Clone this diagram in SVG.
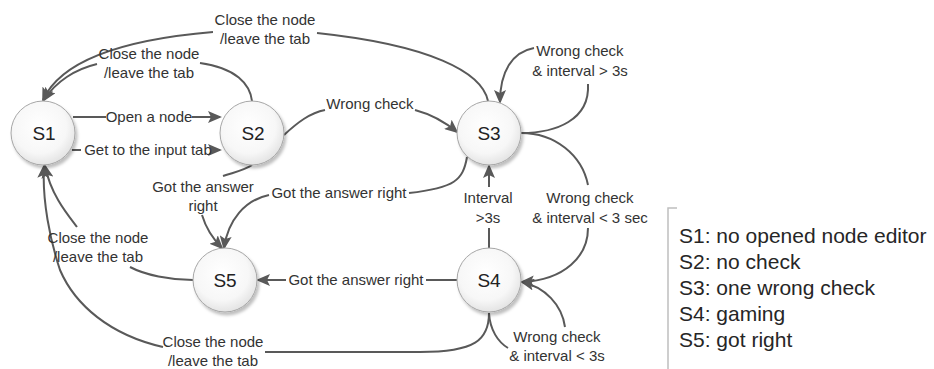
<svg xmlns="http://www.w3.org/2000/svg" width="934" height="369" viewBox="0 0 934 369">
<style>
.lbl{font-family:"Liberation Sans",Arial,sans-serif;font-size:15px;fill:#333;text-anchor:middle}
.nt{font-family:"Liberation Sans",Arial,sans-serif;font-size:19px;fill:#222;text-anchor:middle}
.leg{font-family:"Liberation Sans",Arial,sans-serif;font-size:21px;fill:#262626}
.c{fill:none;stroke:#595959;stroke-width:2}
.a{marker-end:url(#ah)}
.node circle{fill:url(#g);stroke:#a6a6a6;stroke-width:1;filter:url(#sh)}
</style>
<defs>
<radialGradient id="g" cx="0.45" cy="0.4" r="0.6">
<stop offset="0" stop-color="#ffffff"/>
<stop offset="0.7" stop-color="#f7f7f7"/>
<stop offset="1" stop-color="#e4e4e4"/>
</radialGradient>
<filter id="sh" x="-20%" y="-20%" width="150%" height="150%">
<feDropShadow dx="2" dy="3" stdDeviation="1.5" flood-color="#000" flood-opacity="0.25"/>
</filter>
<marker id="ah" markerUnits="userSpaceOnUse" markerWidth="14" markerHeight="12" viewBox="0 0 14 12" refX="12" refY="6" orient="auto">
<path d="M0,0 L14,6 L0,12 L3,6 z" fill="#595959"/>
</marker>
</defs>
<rect width="934" height="369" fill="#fff"/>
<g id="connectors">
<path class="c a" d="M73,117 H106 M192,117 H220"/>
<path class="c a" d="M72,150 H81 M214,150 H220"/>
<path class="c" d="M252,101 C250,84 236,68 200,63"/>
<path class="c a" d="M97,64 C76,69 56,81 44,100"/>
<path class="c" d="M488,101 C482,72 430,45 317,33"/>
<path class="c a" d="M213,32 C130,39 62,58 43,100"/>
<path class="c" d="M284,135 C298,122 310,113 325,110"/>
<path class="c a" d="M415,110 C430,114 445,122 457,132"/>
<path class="c" d="M521,133 C556,133 590,120 588,84"/>
<path class="c a" d="M534,48 C512,52 500,72 500,102"/>
<path class="c" d="M521,133 C555,133 582,155 588,185"/>
<path class="c a" d="M588,228 C588,256 565,280 522,282"/>
<path class="c" d="M489,248 V228"/>
<path class="c a" d="M489,187 V166"/>
<path class="c" d="M467,157 C463,180 455,188 409,193"/>
<path class="c a" d="M269,195 C245,200 228,220 224,248"/>
<path class="c" d="M252,165 C245,170 235,172 223,176"/>
<path class="c a" d="M202,215 C205,225 212,238 222,248"/>
<path class="c" d="M457,280 H426"/>
<path class="c a" d="M286,280 H258"/>
<path class="c" d="M193,280 C170,280 145,275 130,267"/>
<path class="c a" d="M77,227 C67,214 51,195 45,166"/>
<path class="c" d="M489,313 C489,340 475,352 420,352 L265,352"/>
<path class="c a" d="M163,347 C110,335 75,305 60,270 C50,240 42,200 44,166"/>
<path class="c" d="M489,313 C490,330 498,342 508,348"/>
<path class="c a" d="M565,327 C562,305 545,287 522,282"/>
</g>
<g id="labels">
<text class="lbl" x="149" y="122">Open a node</text>
<text class="lbl" x="148" y="155">Get to the input tab</text>
<text class="lbl" x="149" y="59">Close the node</text>
<text class="lbl" x="149" y="78">/leave the tab</text>
<text class="lbl" x="265" y="25">Close the node</text>
<text class="lbl" x="265" y="44">/leave the tab</text>
<text class="lbl" x="370" y="109">Wrong check</text>
<text class="lbl" x="580" y="56">Wrong check</text>
<text class="lbl" x="580" y="76">&amp; interval &gt; 3s</text>
<text class="lbl" x="590" y="203">Wrong check</text>
<text class="lbl" x="590" y="223">&amp; interval &lt; 3 sec</text>
<text class="lbl" x="488" y="203">Interval</text>
<text class="lbl" x="488" y="223">&gt;3s</text>
<text class="lbl" x="339" y="198">Got the answer right</text>
<text class="lbl" x="203" y="192">Got the answer</text>
<text class="lbl" x="203" y="211">right</text>
<text class="lbl" x="356" y="285">Got the answer right</text>
<text class="lbl" x="98" y="243">Close the node</text>
<text class="lbl" x="98" y="262">/leave the tab</text>
<text class="lbl" x="213" y="347">Close the node</text>
<text class="lbl" x="213" y="366">/leave the tab</text>
<text class="lbl" x="557" y="342">Wrong check</text>
<text class="lbl" x="557" y="361">&amp; interval &lt; 3s</text>
</g>
<g id="S1" class="node"><circle cx="43" cy="133" r="32"/><text class="nt" x="44" y="140">S1</text></g>
<g id="S2" class="node"><circle cx="252" cy="133" r="32"/><text class="nt" x="253" y="140">S2</text></g>
<g id="S3" class="node"><circle cx="489" cy="133" r="32"/><text class="nt" x="489" y="140">S3</text></g>
<g id="S4" class="node"><circle cx="489" cy="280" r="32"/><text class="nt" x="489" y="287">S4</text></g>
<g id="S5" class="node"><circle cx="225" cy="280" r="32"/><text class="nt" x="225" y="287">S5</text></g>
<g id="legend">
<path d="M677,208 H668 V369" fill="none" stroke="#bfbfbf" stroke-width="1.5"/>
<text class="leg" x="679" y="243">S1: no opened node editor</text>
<text class="leg" x="679" y="269">S2: no check</text>
<text class="leg" x="679" y="295">S3: one wrong check</text>
<text class="leg" x="679" y="321">S4: gaming</text>
<text class="leg" x="679" y="347">S5: got right</text>
</g>
</svg>
